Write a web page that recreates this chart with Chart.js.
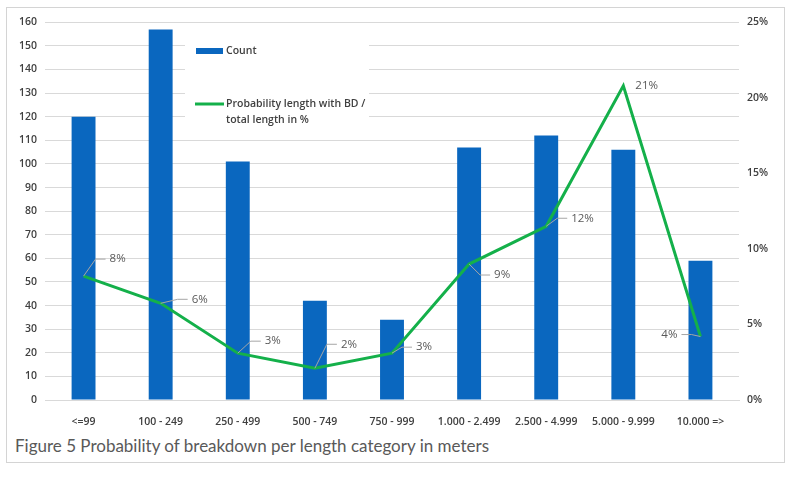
<!DOCTYPE html>
<html>
<head>
<meta charset="utf-8">
<script src="https://cdn.jsdelivr.net/npm/chart.js@4.4.1/dist/chart.umd.min.js"></script>
<style>
  body { margin: 0; background: #fff; }
  #frame {
    position: absolute; left: 6px; top: 7px; width: 777px; height: 454px;
    border: 1px solid #d4d4d4;
  }
  #myChart { position: absolute; left: 0; top: 0; }
  #caption {
    position: absolute; left: 8px; top: 427px;
    font-family: Lato, sans-serif; font-size: 17px; font-weight: 400; color: #595959;
    white-space: nowrap;
  }
</style>
</head>
<body>
<div id="frame">
  <canvas id="myChart" width="777" height="420"></canvas>
  <div id="caption">Figure 5 Probability of breakdown per length category in meters</div>
</div>
<script>
/* globals Chart:false */

// categories (length in meters)
const categories = ['<=99', '100 - 249', '250 - 499', '500 - 749', '750 - 999',
  '1.000 - 2.499', '2.500 - 4.999', '5.000 - 9.999', '10.000 =>']
// number of lines per category
const counts = [120, 157, 101, 42, 34, 107, 112, 106, 59]
// probability length with BD / total length, in %
const probability = [8.2, 6.4, 3.1, 2.1, 3.1, 9.0, 11.5, 20.8, 4.2]

// label offsets relative to each point [dx, dy]
const labelOffsets = [[26, -17], [31, -4], [27, -12], [26, -24], [24, -6],
  [25, 11], [25, -8], [12, 0], [-23, -2]]

const textColor = '#404040'
const tickFont = { family: 'Open Sans', size: 10.5, weight: '600' }

const legendBox = {
  id: 'legendBox',
  beforeDatasetsDraw (chart) {
    const c = chart.ctx
    c.save()
    c.fillStyle = '#fff'
    c.fillRect(178, 25, 184, 100)
    c.fillStyle = '#0a67bf'
    c.fillRect(189, 40, 27, 6)
    c.strokeStyle = '#14b04a'
    c.lineWidth = 3
    c.beginPath()
    c.moveTo(188, 96)
    c.lineTo(217, 96)
    c.stroke()
    c.fillStyle = textColor
    c.font = '600 10.5px "Open Sans"'
    c.textBaseline = 'middle'
    c.fillText('Count', 219, 43)
    c.fillText('Probability length with BD /', 219, 96)
    c.fillText('total length in %', 219, 112)
    c.restore()
  }
}

const pointLabels = {
  id: 'pointLabels',
  afterDatasetsDraw (chart) {
    const c = chart.ctx
    const meta = chart.getDatasetMeta(1)
    c.save()
    c.font = '11.5px "Open Sans"'
    c.textBaseline = 'middle'
    meta.data.forEach((pt, i) => {
      const [dx, dy] = labelOffsets[i]
      const txt = Math.round(probability[i]) + '%'
      const lx = pt.x + dx
      const ly = pt.y + dy
      const dir = dx > 0 ? 1 : -1
      if (Math.abs(dx) > 15) {
        c.strokeStyle = '#a6a6a6'
        c.lineWidth = 1
        c.beginPath()
        c.moveTo(pt.x, pt.y)
        c.lineTo(lx - dir * 14, ly)
        c.lineTo(lx - dir * 4, ly)
        c.stroke()
      }
      c.fillStyle = '#595959'
      c.textAlign = dir > 0 ? 'left' : 'right'
      c.fillText(txt, lx, ly)
    })
    c.restore()
  }
}

const ctx = document.getElementById('myChart')
// eslint-disable-next-line no-unused-vars
const myChart = new Chart(ctx, {
  type: 'bar',
  data: {
    labels: categories,
    datasets: [{
      type: 'bar',
      label: 'Count',
      data: counts,
      backgroundColor: '#0a67bf',
      barPercentage: 0.31,
      categoryPercentage: 1,
      yAxisID: 'y',
      order: 1
    }, {
      type: 'line',
      label: 'Probability length with BD / total length in %',
      data: probability,
      borderColor: '#14b04a',
      borderWidth: 3,
      pointRadius: 0,
      lineTension: 0,
      yAxisID: 'y1',
      order: 0
    }]
  },
  options: {
    responsive: false,
    animation: false,
    layout: { padding: { top: 11, left: 0, right: 0, bottom: 0 } },
    plugins: {
      legend: { display: false },
      tooltip: { enabled: false }
    },
    scales: {
      x: {
        grid: { display: false },
        border: { color: '#d9d9d9' },
        ticks: { color: textColor, font: tickFont, padding: 8, maxRotation: 0, autoSkip: false },
        afterFit: (s) => { s.height = 28 }
      },
      y: {
        min: 0,
        max: 160,
        ticks: { stepSize: 10, color: textColor, font: tickFont, padding: 8 },
        grid: { color: '#d9d9d9', drawTicks: false },
        border: { display: false },
        afterFit: (s) => { s.width = 38 }
      },
      y1: {
        position: 'right',
        min: 0,
        max: 25,
        ticks: { stepSize: 5, color: textColor, font: tickFont, padding: 8, callback: (v) => v + '%' },
        grid: { drawOnChartArea: false, drawTicks: false },
        border: { display: false },
        afterFit: (s) => { s.width = 45 }
      }
    }
  },
  plugins: [legendBox, pointLabels]
})
</script>
</body>
</html>
